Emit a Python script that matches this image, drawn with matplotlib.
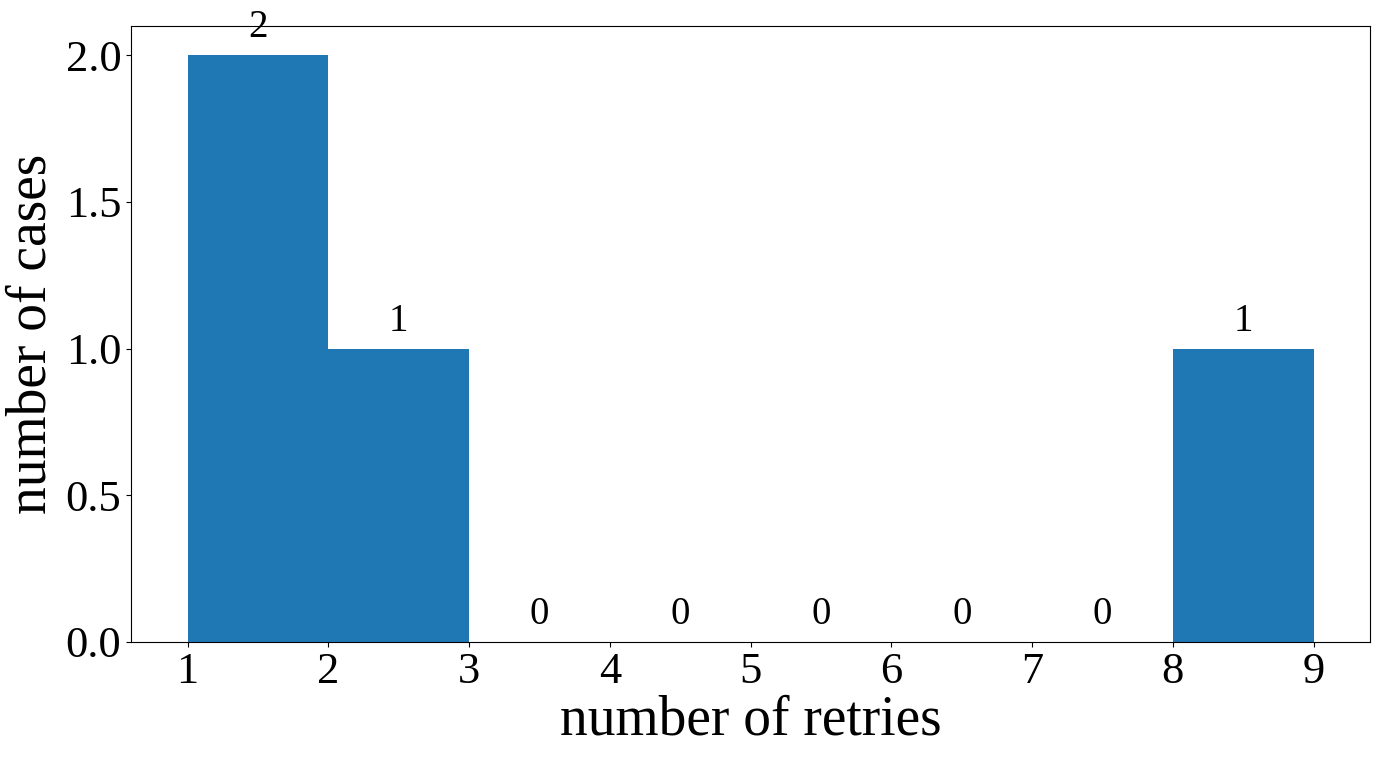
import numpy as np
import matplotlib
matplotlib.use('Agg')
import matplotlib.pyplot as plt

plt.rcParams['font.family'] = ['Liberation Serif', 'DejaVu Serif']

bin_edges = [1, 2, 3, 4, 5, 6, 7, 8, 9]
counts = [2, 1, 0, 0, 0, 0, 0, 1]

fig, ax = plt.subplots(figsize=(13.81, 7.57), dpi=100)
fig.subplots_adjust(left=0.095, right=0.992, top=0.966, bottom=0.152)

n, bins, patches = ax.hist(bin_edges[:-1], bins=bin_edges, weights=counts, color='#1f77b4')

for i in range(len(n)):
    ax.text((bins[i] + bins[i + 1]) / 2, n[i] + 0.03, str(int(n[i])),
            ha='center', va='bottom', fontsize=28)

ax.set_xlabel('number of retries', fontsize=40, labelpad=2)
ax.set_ylabel('number of cases', fontsize=40, labelpad=6)
ax.tick_params(labelsize=32)
ax.set_yticks([0.0, 0.5, 1.0, 1.5, 2.0])

fig.savefig('out.png', dpi=100)
